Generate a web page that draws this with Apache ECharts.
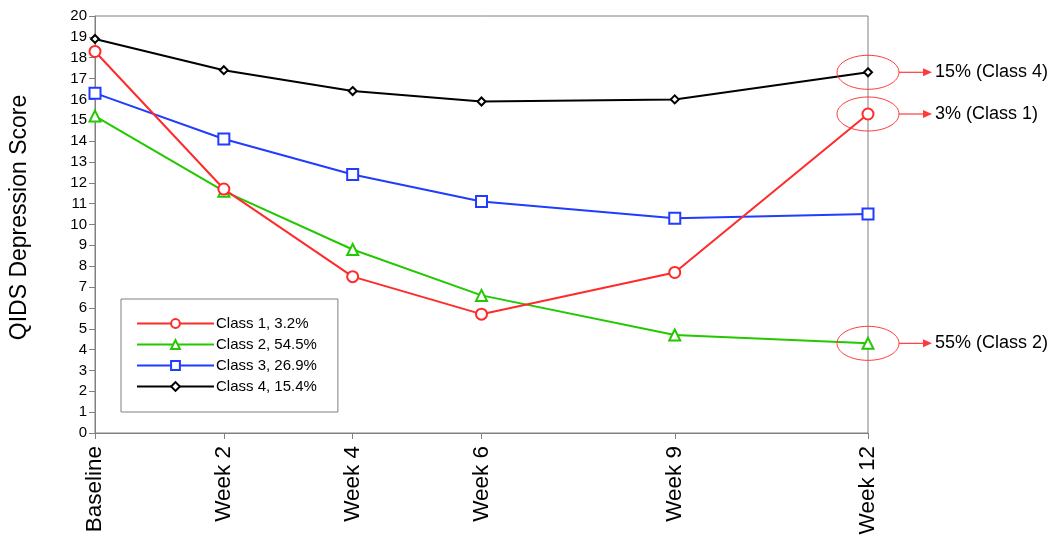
<!DOCTYPE html>
<html>
<head>
<meta charset="utf-8">
<script src="https://cdn.jsdelivr.net/npm/echarts@6/dist/echarts.min.js"></script>
<style>html,body{margin:0;padding:0;background:#fff}#c{width:1050px;height:540px}</style>
</head>
<body>
<div id="c"></div>
<script>
// weeks (x positions) and their tick labels
const weeks = [0, 2, 4, 6, 9, 12];
const weekLabels = ['Baseline', 'Week 2', 'Week 4', 'Week 6', 'Week 9', 'Week 12'];
const yTicks = [0, 20, 1]; // min, max, interval

const seriesNames = ['Class 1, 3.2%', 'Class 2, 54.5%', 'Class 3, 26.9%', 'Class 4, 15.4%'];
const class1 = [18.3, 11.7, 7.5, 5.7, 7.7, 15.3];
const class2 = [15.2, 11.6, 8.8, 6.6, 4.7, 4.3];
const class3 = [16.3, 14.1, 12.4, 11.1, 10.3, 10.5];
const class4 = [18.9, 17.4, 16.4, 15.9, 16.0, 17.3];

// annotations at week 12
const annoWeeks = [12, 12, 12];
const annoValues = [17.3, 15.3, 4.3];
const annoTexts = ['15% (Class 4)', '3% (Class 1)', '55% (Class 2)'];

const FONT = '"Liberation Sans", Arial, sans-serif';
const colors = ['#ff2a2a', '#22c800', '#1f3cff', '#000000'];
const symbols = ['emptyCircle', 'emptyTriangle', 'emptyRect', 'emptyDiamond'];
const sizes = [11, 11, 11, 8];
const values = [class1, class2, class3, class4];

const lineSeries = values.map((vals, i) => ({
  type: 'line',
  name: seriesNames[i],
  data: weeks.map((w, j) => [w, vals[j]]),
  symbol: symbols[i],
  symbolSize: sizes[i],
  showAllSymbol: true,
  lineStyle: { color: colors[i], width: 2 },
  itemStyle: { color: colors[i], borderWidth: 1.6 },
  z: 3 + (3 - i),
  animation: false
}));

const annoSeries = {
  type: 'custom',
  data: annoWeeks.map((w, i) => [w, annoValues[i], i]),
  encode: { x: 0, y: 1 },
  clip: false,
  silent: true,
  z: 10,
  renderItem: function (params, api) {
    const p = api.coord([api.value(0), api.value(1)]);
    const idx = api.value(2);
    const stroke = '#ff3a3a';
    return {
      type: 'group',
      children: [
        { type: 'ellipse', shape: { cx: p[0], cy: p[1], rx: 31, ry: 17 },
          style: { fill: null, stroke: stroke, lineWidth: 1 } },
        { type: 'line', shape: { x1: p[0] + 31, y1: p[1], x2: p[0] + 57, y2: p[1] },
          style: { stroke: stroke, lineWidth: 1.2 } },
        { type: 'polygon', shape: { points: [[p[0] + 55, p[1] - 4], [p[0] + 64, p[1]], [p[0] + 55, p[1] + 4]] },
          style: { fill: stroke } },
        { type: 'text', x: p[0] + 67, y: p[1],
          style: { text: annoTexts[idx], fill: '#000', font: '18px ' + FONT, verticalAlign: 'middle', align: 'left' } }
      ]
    };
  }
};

const chart = echarts.init(document.getElementById('c'), null, { renderer: 'canvas' });
chart.setOption({
  animation: false,
  backgroundColor: '#fff',
  textStyle: { fontFamily: FONT },
  grid: { left: 94, right: 182, top: 16, bottom: 107, show: true, borderColor: '#808080', borderWidth: 1, backgroundColor: 'transparent' },
  legend: {
    data: seriesNames,
    orient: 'vertical',
    left: 121, top: 299,
    padding: [17, 21, 18, 15],
    itemWidth: 77, itemHeight: 11, itemGap: 6,
    borderColor: '#808080', borderWidth: 1,
    backgroundColor: '#fff',
    textStyle: { fontSize: 15, color: '#000', fontFamily: FONT, padding: [0, 0, 0, -3] }
  },
  xAxis: {
    type: 'value', min: 0, max: 12,
    axisLine: { lineStyle: { color: '#808080' } },
    axisTick: { customValues: weeks, length: 6, lineStyle: { color: '#808080' } },
    axisLabel: {
      customValues: weeks,
      formatter: v => weekLabels[weeks.indexOf(v)],
      rotate: 90, fontSize: 22.5, color: '#000', margin: 13, fontFamily: FONT
    },
    splitLine: { show: false }
  },
  yAxis: {
    type: 'value', min: yTicks[0], max: yTicks[1], interval: yTicks[2],
    name: 'QIDS Depression Score', nameLocation: 'middle', nameGap: 64, nameRotate: 90,
    nameTextStyle: { fontSize: 23, color: '#000', fontFamily: FONT, padding: [0, 0, 0, 14] },
    axisLine: { show: true, lineStyle: { color: '#808080' } },
    axisTick: { show: true, length: 6, lineStyle: { color: '#808080' } },
    axisLabel: { fontSize: 15, color: '#000', margin: 8, fontFamily: FONT },
    splitLine: { show: false }
  },
  series: lineSeries.concat([annoSeries])
});
</script>
</body>
</html>
